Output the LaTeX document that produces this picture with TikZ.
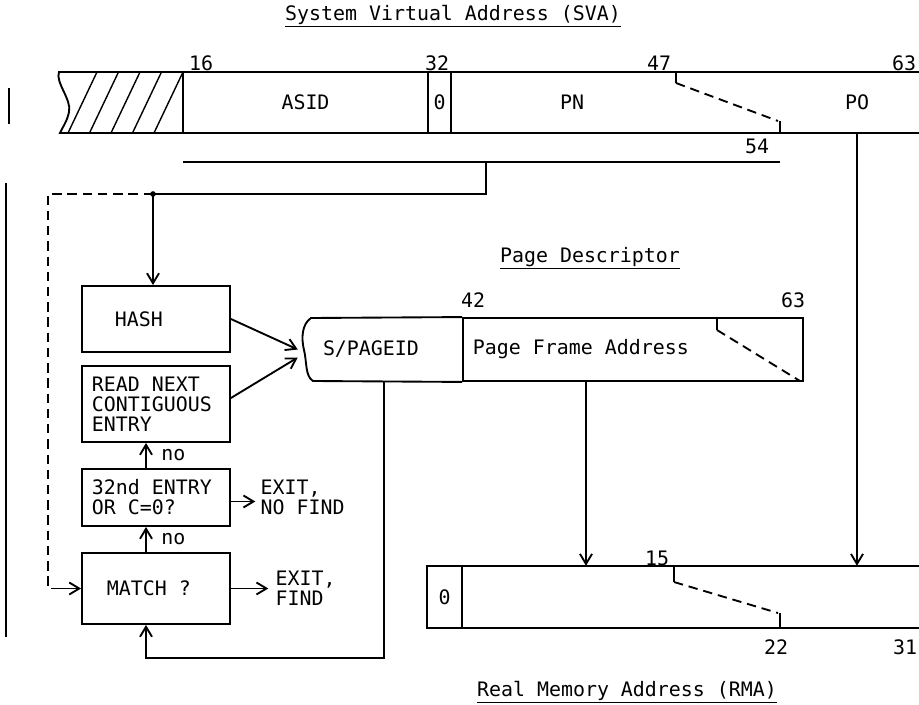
\documentclass[tikz,border=0pt]{standalone}
\usepackage{fontspec}
\usepackage{tikz}
\usetikzlibrary{arrows.meta,positioning,calc}
\newfontfamily\dotmono[WordSpace={1,0,0}]{DejaVu Sans Mono}
\newcommand{\dotfont}{\dotmono\fontsize{17}{17}\selectfont}

\begin{document}
\begin{tikzpicture}[
    x=0.03cm, y=-0.03cm,
    every node/.style={font=\dotfont},
    reg/.style={line width=1.6pt},
    dashedline/.style={line width=1.6pt, dash pattern=on 8pt off 5pt},
    line/.style={-{Straight Barb[length=3mm,width=3.6mm]}, line width=1.6pt},
    box/.style={
        draw,
        line width=1.6pt,
        minimum width=4.44cm,
        text width=3.84cm,
        align=flush left,
        inner xsep=0.3cm,
        inner ysep=0pt
    },
    field/.style={minimum height=1.83cm, inner sep=0pt},
    lbl/.style={inner sep=1pt},
    title/.style={inner sep=1pt}
]
\useasboundingbox (0,0) rectangle (919,705);

% ---- Titles ----
\node[title] (svatitle) at (453,16) {\underline{System Virtual Address (SVA)}};
\node[title] (pdtitle) at (590,258) {\underline{Page Descriptor}};
\node[title] (rmatitle) at (627,692) {\underline{Real Memory Address (RMA)}};

% ---- margin bars ----
\draw[reg] (9,88) -- (9,124);
\draw[reg] (6,183) -- (6,637);

% ---- SVA register ----
\draw[reg] (183,72) -- (59,72) .. controls (55,82) and (72,100) .. (69,112)
    .. controls (67,122) and (62,128) .. (60,133) -- (183,133);
\foreach \i in {0,...,4}
    \draw[line width=1.2pt] (68+21.5*\i,133) -- (97+21.5*\i,72);
\draw[reg] (183,72) -- (919,72);
\draw[reg] (183,133) -- (919,133);
\draw[reg] (183,72) -- (183,133);
\draw[reg] (428,72) -- (428,133);
\draw[reg] (451,72) -- (451,133);
\draw[reg] (676,72) -- (676,83);
\draw[dashedline] (676,83) -- (778,121);
\draw[reg] (780,121) -- (780,133);

\node[field, minimum width=7.35cm] (asid) at (305.5,102.5) {ASID};
\node[field, minimum width=0.69cm] (zero) at (439.5,102.5) {0};
\node[field] (pn) at (572,102.5) {PN};
\node[field] (po) at (857,102.5) {PO};

\node[lbl] (b16) at (201,63) {16};
\node[lbl] (b32) at (437,63) {32};
\node[lbl] (b47) at (659,63) {47};
\node[lbl] (b63) at (904,63) {63};
\node[lbl] (b54) at (757,146) {54};

% ---- bracket over ASID + PN ----
\coordinate (brl) at (183,162);
\coordinate (brr) at (780,162);
\coordinate (brm) at (486,162);
\coordinate (jn) at (153,194);
\coordinate (dl) at (48,194);
\draw[reg] (brl) -- (brr);
\draw[reg] (brm) |- (jn);
\fill (jn) circle (2.4pt);

% ---- Search loop ----
\node[box, minimum height=1.98cm] (hash) at (156,319) {\hspace*{0.69cm}HASH};
\node[box, minimum height=2.28cm] (readnext) at (156,404) {READ NEXT\\CONTIGUOUS\\ENTRY};
\node[box, minimum height=1.71cm] (entry32) at (156,497.5) {32nd ENTRY\\OR C=0?};
\node[box, minimum height=2.13cm] (match) at (156,588.5) {\hspace*{0.45cm}MATCH ?};

\node[lbl, align=flush left, right=0.85cm of entry32] (nofind) {EXIT,\\NO FIND};
\node[lbl, align=flush left, right=1.3cm of match] (find) {EXIT,\\FIND};

% ---- Page descriptor ----
\node[minimum height=1.89cm, text width=3.66cm, inner xsep=0.54cm, inner ysep=0pt, align=flush left] (pageid) at (384,349.5) {S/PAGEID};
\node[reg, draw, minimum height=1.89cm, text width=9.6cm, inner xsep=0.3cm, inner ysep=0pt, align=flush left] (pfa) at (633,349.5) {Page Frame Address};
\draw[reg] (pfa.north west) -- (311,318) .. controls (302,324) and (301,338) .. (304,350)
    .. controls (307,362) and (305,376) .. (313,381) -- (pfa.south west);
\draw[reg] (717,318) -- (717,330);
\draw[dashedline] (717,330) -- (800,381);
\node[lbl] (d42) at (473,300) {42};
\node[lbl] (d63) at (793,300) {63};

% ---- RMA register ----
\draw[reg] (919,566) -- (427,566) -- (427,628) -- (919,628);
\draw[reg] (462,566) -- (462,628);
\draw[reg] (674,566) -- (674,582);
\draw[dashedline] (674,582) -- (778,613);
\draw[reg] (780,613) -- (780,628);
\node[field, minimum height=1.86cm] (rzero) at (444.5,597) {0};
\node[field, minimum height=1.86cm, minimum width=13.71cm] (rbody) at (690.5,597) {};
\node[lbl] (r15) at (657,558) {15};
\node[lbl] (r22) at (776,647) {22};
\node[inner sep=0pt] (r31) at (905,647) {31};

% ---- Connections ----
\draw[line] (jn) -- (jn |- hash.north);
\draw[dashedline] (jn) -- (dl) |- ($(match.west)+(-24,0)$) coordinate (dm);
\draw[line] (dm) -- (match.west);

\draw[line] (hash.east) -- ($(pageid.west)+(-7,0)$);
\draw[line] ($(readnext.east)+(0,-6)$) -- ($(pageid.west)+(-7,8)$);

\draw[line] ($(entry32.north)+(-10,0)$) -- node[right, lbl, xshift=0.4cm] {no} ($(readnext.south)+(-10,0)$);
\draw[line] ($(match.north)+(-10,0)$) -- node[right, lbl, xshift=0.4cm] {no} ($(entry32.south)+(-10,0)$);

\draw[line] ($(entry32.east)+(0,4)$) -- ($(nofind.west)+(-4,4)$);
\draw[line] (match.east) -- ($(find.west)+(-6,0)$);

\draw[line] (pageid.south) |- ($(match.south)+(-10,33)$) -- ($(match.south)+(-10,0)$);

\coordinate (pfd) at ($(pfa.south)+(-47,0)$);
\draw[line] (pfd) -- (pfd |- rbody.north);
\draw[line] (po.south) -- (po.south |- rbody.north);

\end{tikzpicture}
\end{document}
